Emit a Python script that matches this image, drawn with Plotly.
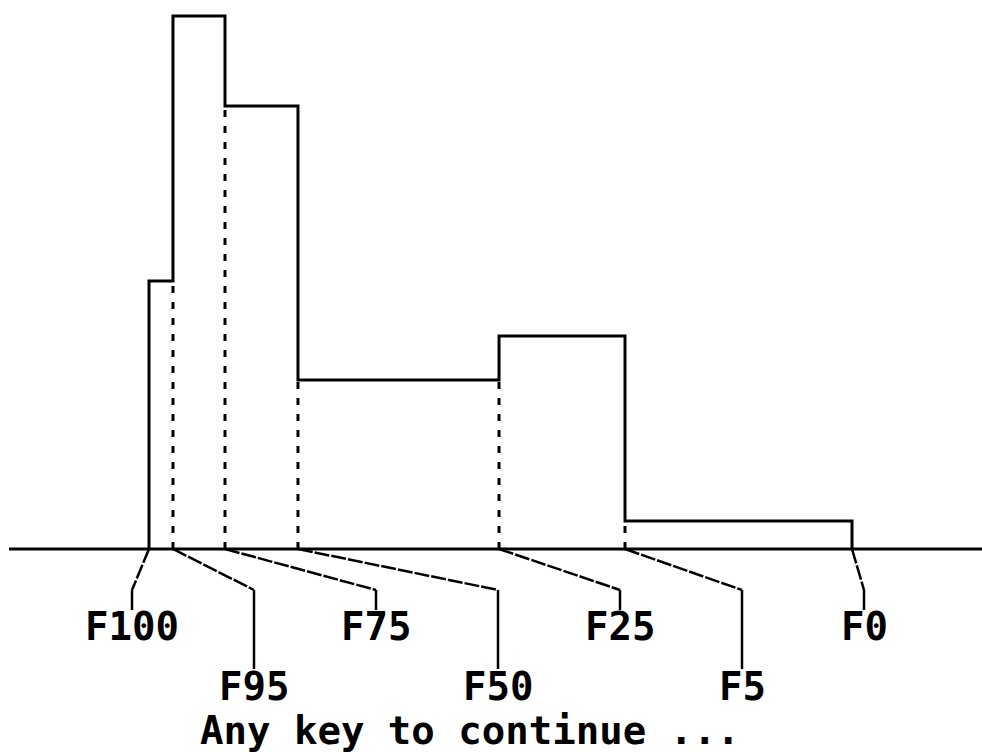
import numpy as np
import plotly.graph_objects as go

# Quantiles of the distribution (F100 = minimum ... F0 = maximum)
quantile_labels = ["F100", "F95", "F75", "F50", "F25", "F5", "F0"]
quantile_values = [0.0, 3.41, 10.81, 21.19, 49.79, 67.71, 100.0]

# Density of each interval between consecutive quantiles (% per unit)
interval_density = [1.466, 2.916, 2.423, 0.925, 1.165, 0.153]

prompt_text = "Any key to continue ..."

W, H = 982, 752
X_RANGE = [-21.195, 118.49]
Y_RANGE = [-1.1105, 3.003]


def px_x(px):
    """Horizontal pixel position -> x data value."""
    return X_RANGE[0] + px / W * (X_RANGE[1] - X_RANGE[0])


def px_y(py):
    """Vertical pixel position (from top) -> y data value."""
    return Y_RANGE[1] - py / H * (Y_RANGE[1] - Y_RANGE[0])


ink = "black"
fig = go.Figure()

# Baseline
fig.add_trace(go.Scatter(
    x=[px_x(9), px_x(W)], y=[0, 0], mode="lines",
    line=dict(color=ink, width=3), hoverinfo="skip", showlegend=False))

# Step outline of the density histogram
step_x = [quantile_values[0]] + list(quantile_values)
step_y = [0] + list(interval_density) + [0]
fig.add_trace(go.Scatter(
    x=step_x, y=step_y, mode="lines", line_shape="hv",
    line=dict(color=ink, width=3), hoverinfo="skip", showlegend=False))

# Dashed dividers at interior quantiles, up to the lower neighbouring bar
for i in range(1, len(quantile_values) - 1):
    top = min(interval_density[i - 1], interval_density[i])
    fig.add_trace(go.Scatter(
        x=[quantile_values[i]] * 2, y=[0, top], mode="lines",
        line=dict(color=ink, width=3, dash="7px,9px"),
        hoverinfo="skip", showlegend=False))

# Leader lines and labels, alternating between two rows
slots_px = np.linspace(132, 864, len(quantile_labels))
knee_y = px_y(590)
label_font = dict(family="DejaVu Sans Mono", size=39, color=ink, weight="bold")
for i, (lab, q) in enumerate(zip(quantile_labels, quantile_values)):
    sx = px_x(slots_px[i])
    upper = (i % 2 == 0)
    end_y = px_y(610) if upper else px_y(669)
    fig.add_trace(go.Scatter(
        x=[q, sx], y=[0, knee_y], mode="lines",
        line=dict(color=ink, width=2.5, dash="15px,2px"),
        hoverinfo="skip", showlegend=False))
    fig.add_trace(go.Scatter(
        x=[sx, sx], y=[knee_y, end_y], mode="lines",
        line=dict(color=ink, width=2.5),
        hoverinfo="skip", showlegend=False))
    fig.add_annotation(
        x=sx, y=px_y(626 if upper else 686), text=lab, showarrow=False,
        xanchor="center", yanchor="middle", font=label_font)

fig.add_annotation(
    x=px_x(470), y=px_y(730), text=prompt_text, showarrow=False,
    xanchor="center", yanchor="middle",
    font=dict(family="DejaVu Sans Mono", size=39, color=ink, weight="bold"))

fig.update_layout(
    width=W, height=H,
    margin=dict(l=0, r=0, t=0, b=0),
    paper_bgcolor="white", plot_bgcolor="white",
    xaxis=dict(range=X_RANGE, visible=False, fixedrange=True),
    yaxis=dict(range=Y_RANGE, visible=False, fixedrange=True),
    showlegend=False,
)

fig.write_html("out.html")
